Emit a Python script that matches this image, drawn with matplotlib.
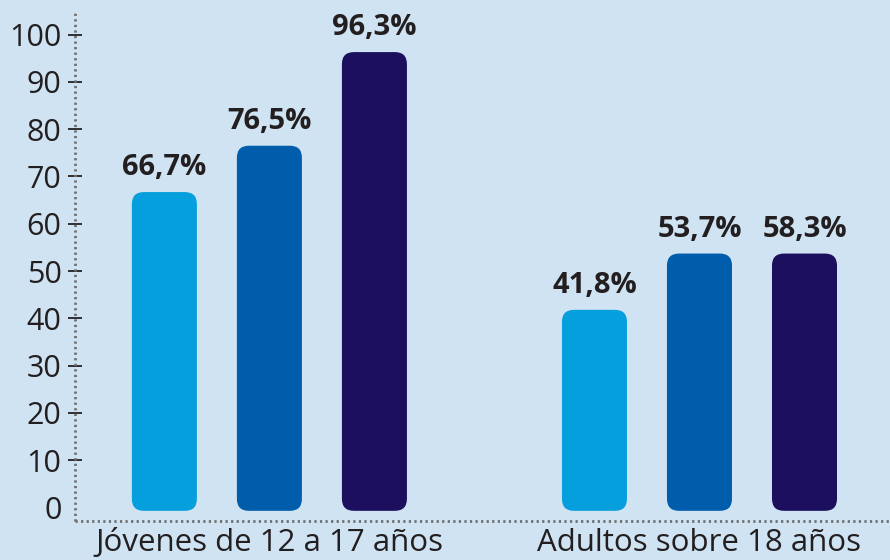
import matplotlib
matplotlib.use("Agg")
import matplotlib.pyplot as plt
from matplotlib.patches import FancyBboxPatch
import numpy as np

# Data
categories = ["Jóvenes de 12 a 17 años", "Adultos sobre 18 años"]
series_a = [66.7, 41.8]          # light blue
series_b = [76.5, 53.7]          # mid blue
series_c = [96.3, 53.7]          # dark navy (bar height as drawn)
labels_a = ["66,7%", "41,8%"]
labels_b = ["76,5%", "53,7%"]
labels_c = ["96,3%", "58,3%"]
yticks = [0, 10, 20, 30, 40, 50, 60, 70, 80, 90, 100]

bg = "#cfe3f3"
colors = ["#049fdc", "#005dab", "#1b0f5e"]
txt = "#231f20"
font = "Open Sans"

fig = plt.figure(figsize=(8.9, 5.6), dpi=100, facecolor=bg)
ax = fig.add_axes([75/890, 1 - 521/560, 1 - 75/890, (521 - 10)/560])
ax.set_facecolor(bg)

ax.set_xlim(-0.452, 1.443)
ax.set_ylim(-2.85, 105.2)

offset = 105/430
width = 65/430
base = -0.7
xg = np.arange(len(categories))

for i, (vals, labs) in enumerate(zip([series_a, series_b, series_c],
                                      [labels_a, labels_b, labels_c])):
    xs = xg + (i - 1) * offset
    bars = ax.bar(xs, np.array(vals) - base, bottom=base, width=width,
                  color=colors[i])
    for b, lab in zip(bars, labs):
        x0, y0 = b.get_x(), b.get_y()
        w, h = b.get_width(), b.get_height()
        b.set_visible(False)
        p = FancyBboxPatch((x0, y0), w, h,
                           boxstyle="round,pad=0,rounding_size=0.028",
                           mutation_aspect=90.7, facecolor=colors[i],
                           edgecolor="none")
        ax.add_patch(p)
        ax.annotate(lab, (x0 + w/2, y0 + h), xytext=(0, 7),
                    textcoords="offset points", ha="center", va="bottom",
                    fontsize=21, fontweight="bold", color=txt, family=font)

# Axes styling
for s in ["top", "right"]:
    ax.spines[s].set_visible(False)
for s in ["left", "bottom"]:
    ax.spines[s].set_color("#6f6f6f")
    ax.spines[s].set_linewidth(2.0)
    ax.spines[s].set_linestyle((0, (0.8, 1.2)))
    ax.spines[s].set_capstyle("butt")

ax.set_yticks(yticks)
ax.set_yticklabels([str(t) for t in yticks], family=font, fontsize=22, color=txt)
ax.tick_params(axis="y", direction="inout", length=9.5, width=1.3,
               color=txt, pad=5)
ax.yaxis.get_major_ticks()[0].tick1line.set_visible(False)

ax.set_xticks(xg)
ax.set_xticklabels(categories, family=font, fontsize=22.5, color=txt)
ax.tick_params(axis="x", length=0, pad=5)

fig.savefig("out.png", dpi=100, facecolor=bg)
